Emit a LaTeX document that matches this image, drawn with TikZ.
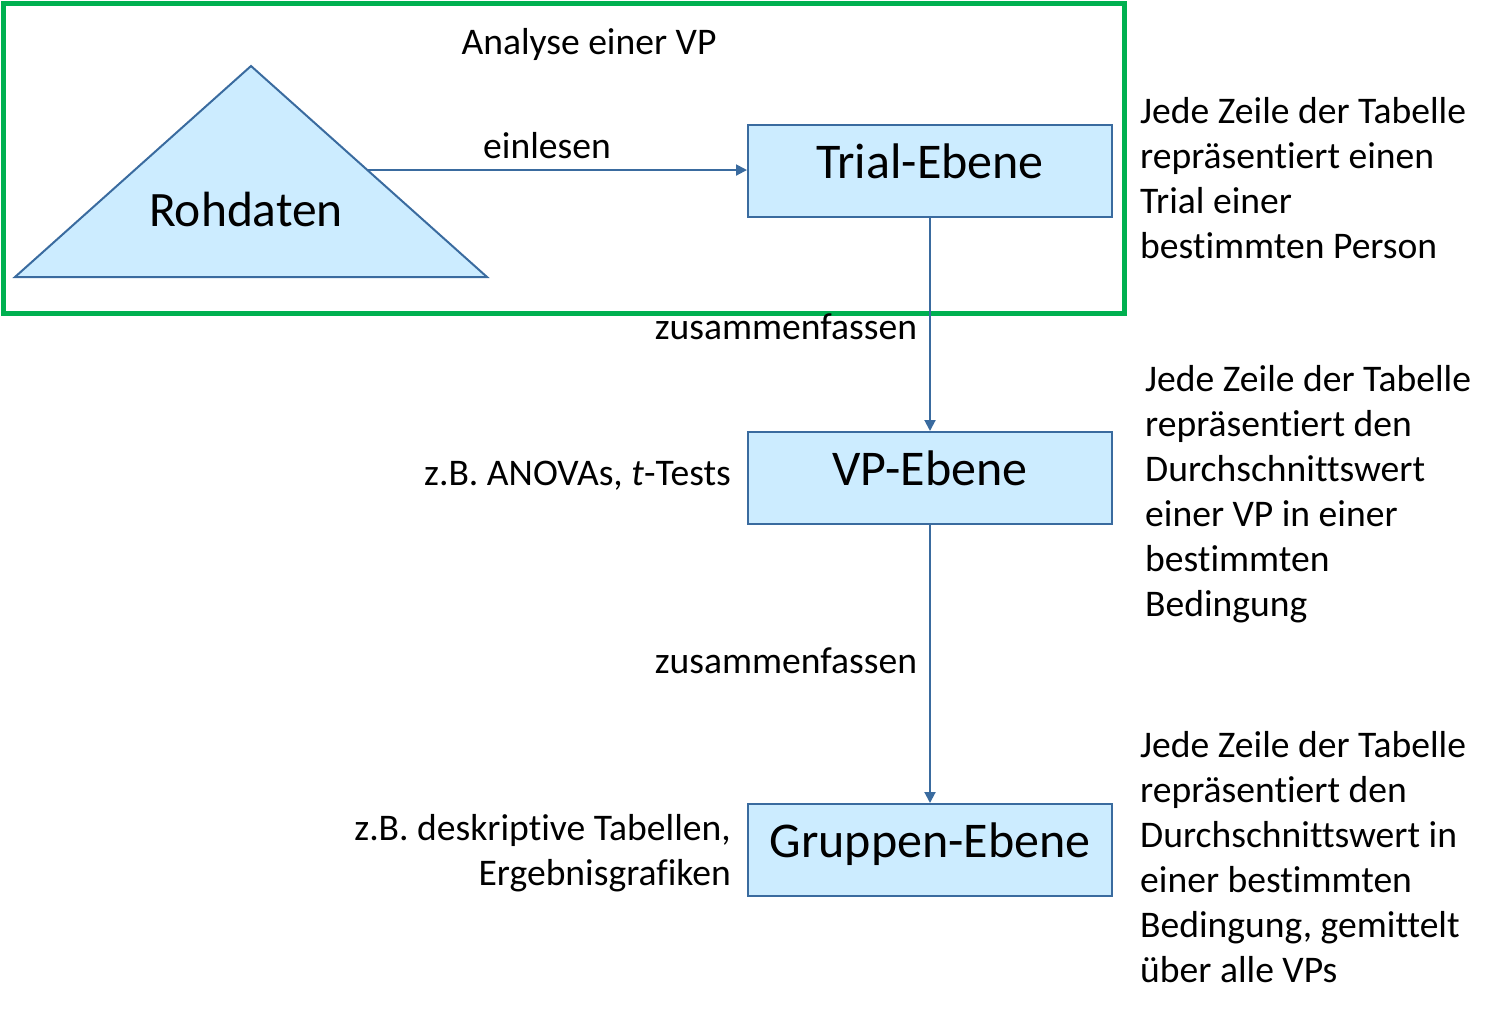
\documentclass[tikz,border=0pt]{standalone}
\usepackage{fontspec}
\setmainfont{Carlito}[Ligatures=NoCommon]
\usetikzlibrary{arrows.meta,calc}
\definecolor{boxfill}{HTML}{CCECFF}
\definecolor{boxline}{HTML}{3A6B9F}
\definecolor{framegreen}{HTML}{00B050}
\begin{document}
\begin{tikzpicture}[x=1pt,y=-1pt,
  levelbox/.style={draw=boxline, fill=boxfill, line width=2pt, minimum width=364pt, minimum height=92pt, inner sep=0pt, font=\fontsize{50}{60}\selectfont, text height=36pt, text depth=21pt},
  small/.style={font=\fontsize{37.6}{45}\selectfont, inner sep=0pt},
  conn/.style={draw=boxline, line width=2pt, -{Triangle[length=11pt,width=11pt]}}]
\useasboundingbox (0,0) rectangle (1502,1015);
% frame
\draw[framegreen, line width=5pt] (3,3) rectangle (1124,313);
\node[small, anchor=base] (ana) at (589,54) {Analyse einer VP};
% triangle
\coordinate (apex) at (251,66);
\coordinate (bl) at (15,277);
\coordinate (br) at (487,277);
\filldraw[fill=boxfill, draw=boxline, line width=2pt, line join=miter] (apex) -- (br) -- (bl) -- cycle;
\node[font=\fontsize{49.5}{59}\selectfont, inner sep=0pt, anchor=base] (roh) at (246,226) {Rohdaten};
% boxes
\node[levelbox] (trial) at (930,171) {Trial-Ebene};
\node[levelbox] (vp) at (930,478) {VP-Ebene};
\node[levelbox] (grp) at (930,850) {Gruppen-Ebene};
% connectors
\coordinate (rs) at ($(apex)!0.493!(br)$);
\draw[conn] (rs) -- (rs -| trial.west);
\draw[conn] (trial) -- (vp);
\draw[conn] (vp) -- (grp);
% labels
\node[small, anchor=base] (ein) at (547,158) {einlesen};
\node[small, anchor=base] (zus1) at (786,339) {zusammenfassen};
\node[small, anchor=base] (zus2) at (786,673) {zusammenfassen};
\node[small, anchor=base east] (anova) at (731,485) {z.B. ANOVAs, \textit{t}-Tests};
\node[small, anchor=north east, align=right] (desk) at (731,814) {z.B. deskriptive Tabellen,\\Ergebnisgrafiken};
% descriptions
\node[small, anchor=north west, align=left] (d1) at (1140,97) {Jede Zeile der Tabelle\\repräsentiert einen\\Trial einer\\bestimmten Person};
\node[small, anchor=north west, align=left] (d2) at (1145,365) {Jede Zeile der Tabelle\\repräsentiert den\\Durchschnittswert\\einer VP in einer\\bestimmten\\Bedingung};
\node[small, anchor=north west, align=left] (d3) at (1140,731) {Jede Zeile der Tabelle\\repräsentiert den\\Durchschnittswert in\\einer bestimmten\\Bedingung, gemittelt\\über alle VPs};
\end{tikzpicture}
\end{document}
